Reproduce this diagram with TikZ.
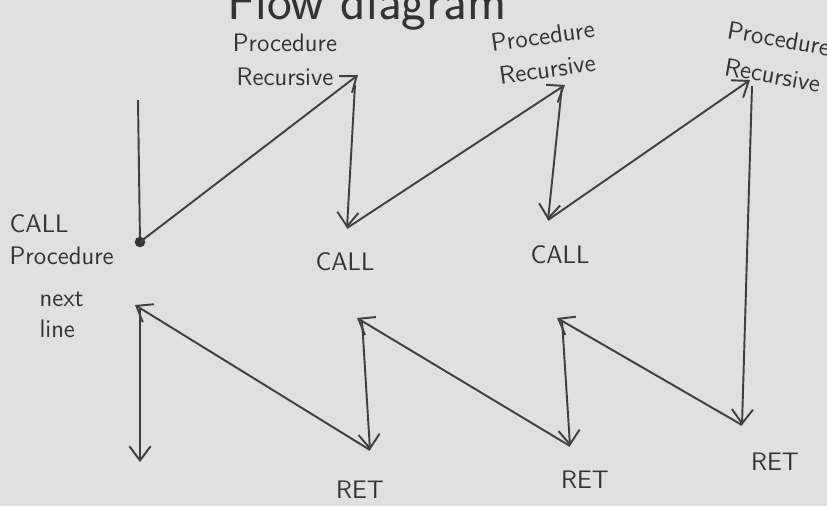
\documentclass[tikz,border=0pt]{standalone}
\usetikzlibrary{arrows.meta}

\tikzset{
  pen/.style={draw=black!75, line width=1.1pt},
  arr/.style={pen, -{Straight Barb[length=8pt,width=12pt]}},
  lbl/.style={text=black!80, font=\sffamily\Large, align=center, inner sep=1pt},
  bigtxt/.style={text=black!80, font=\sffamily\Large, inner sep=1pt}
}

\begin{document}
\begin{tikzpicture}
      \useasboundingbox (0, 0) rectangle (16.54, -10.12);
      \clip (0, 0) rectangle (16.54, -10.12);
      \fill[black!12] (0, 0) rectangle (16.54, -10.12);

      % title, cut off at the top
      \node[bigtxt, font=\sffamily\fontsize{30}{30}\selectfont, anchor=base west] (title) at (4.5, -0.38) {Flow diagram};

      % call side
      \coordinate (top) at (2.76, -2.0);
      \coordinate (cp) at (2.8, -4.84);
      \coordinate (pra) at (7.16, -1.5);
      \coordinate (pras) at (7.1, -1.7);
      \coordinate (ca) at (6.94, -4.56);
      \coordinate (prb) at (11.3, -1.7);
      \coordinate (prbs) at (11.24, -1.72);
      \coordinate (cb) at (10.96, -4.4);
      \coordinate (prc) at (15.0, -1.6);
      \coordinate (prcs) at (15.04, -1.72);

      % return side
      \coordinate (rc) at (14.84, -8.5);
      \coordinate (rbu) at (11.14, -6.36);
      \coordinate (rbus) at (11.24, -6.4);
      \coordinate (rb) at (11.4, -8.92);
      \coordinate (rau) at (7.14, -6.36);
      \coordinate (raus) at (7.24, -6.4);
      \coordinate (ra) at (7.4, -9.0);
      \coordinate (nl) at (2.7, -6.1);
      \coordinate (nls) at (2.8, -6.16);
      \coordinate (end) at (2.8, -9.24);

      \draw[pen] (top) -- (cp);
      \fill[black!80] (cp) circle (3pt);
      \draw[arr] (cp) -- (pra);
      \draw[arr] (pras) -- (ca);
      \draw[arr] (ca) -- (prb);
      \draw[arr] (prbs) -- (cb);
      \draw[arr] (cb) -- (prc);
      \draw[arr] (prcs) -- (rc);

      \draw[arr] (rc) -- (rbu);
      \draw[arr] (rbus) -- (rb);
      \draw[arr] (rb) -- (rau);
      \draw[arr] (raus) -- (ra);
      \draw[arr] (ra) -- (nl);
      \draw[arr] (nls) -- (end);

      \node[lbl] (pr1) at (5.7, -1.2) {Procedure\\[1pt]Recursive};
      \node[lbl, rotate=8] (pr2) at (10.9, -1.05) {Procedure\\[1pt]Recursive};
      \node[lbl, rotate=-10, anchor=west] (pr3) at (14.45, -0.95) {Procedure\\[3pt]Recursive};

      \node[lbl, align=left, anchor=west] (cpl) at (0.15, -4.8) {CALL\\Procedure};
      \node[bigtxt] (call1) at (6.9, -5.24) {CALL};
      \node[bigtxt] (call2) at (11.2, -5.1) {CALL};
      \node[lbl, align=left, anchor=west] (next) at (0.75, -6.3) {next\\line};

      \node[bigtxt] (ret1) at (7.2, -9.8) {RET};
      \node[bigtxt] (ret2) at (11.7, -9.6) {RET};
      \node[bigtxt] (ret3) at (15.5, -9.24) {RET};

    \end{tikzpicture}
\end{document}
